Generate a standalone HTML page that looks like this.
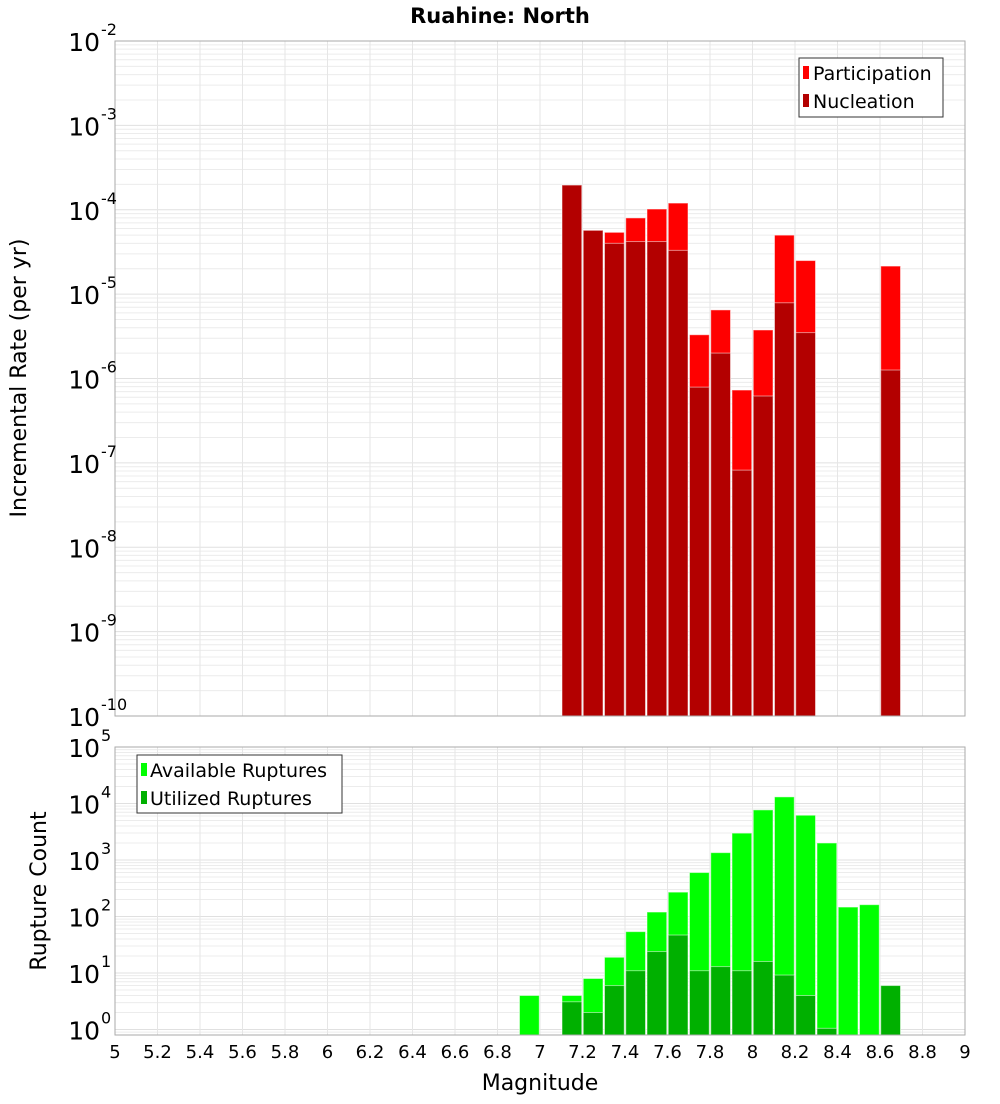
<!DOCTYPE html>
<html><head><meta charset="utf-8"><style>
body{margin:0;background:#fff;font-family:"DejaVu Sans","Liberation Sans",sans-serif;}
svg text{font-family:"DejaVu Sans","Liberation Sans",sans-serif;}
</style></head><body>
<svg id="chart" width="1000" height="1100" xmlns="http://www.w3.org/2000/svg">
<text x="500" y="23" text-anchor="middle" font-size="21" font-weight="bold">Ruahine: North</text>
<g id="top"></g>
<g id="bot"></g>
<text transform="translate(26,378) rotate(-90)" text-anchor="middle" font-size="22">Incremental Rate (per yr)</text>
<text transform="translate(46,891) rotate(-90)" text-anchor="middle" font-size="22">Rupture Count</text>
<text x="540" y="1090" text-anchor="middle" font-size="22">Magnitude</text>
<g>
<rect x="799" y="58" width="144" height="59" fill="#fff" stroke="#333"/>
<rect x="803" y="66" width="6" height="13" fill="#ff0000"/>
<text x="813" y="80" font-size="19">Participation</text>
<rect x="803" y="94" width="6" height="13" fill="#b30000"/>
<text x="813" y="108" font-size="19">Nucleation</text>
</g>
<g>
<rect x="137" y="755" width="205" height="58" fill="#fff" stroke="#333"/>
<rect x="141" y="763" width="6" height="13" fill="#00ff00"/>
<text x="150" y="777" font-size="19">Available Ruptures</text>
<rect x="141" y="791" width="6" height="13" fill="#00b000"/>
<text x="150" y="805" font-size="19">Utilized Ruptures</text>
</g>
</svg>
<script>
const bins=[6.95,7.05,7.15,7.25,7.35,7.45,7.55,7.65,7.75,7.85,7.95,8.05,8.15,8.25,8.35,8.45,8.55,8.65];
const participation=[0,0,1.96e-4,5.7e-5,5.4e-5,8e-5,1.02e-4,1.2e-4,3.3e-6,6.5e-6,7.3e-7,3.76e-6,5.0e-5,2.5e-5,0,0,0,2.15e-5];
const nucleation=[0,0,1.96e-4,5.7e-5,4.0e-5,4.2e-5,4.2e-5,3.3e-5,7.9e-7,2.0e-6,8.2e-8,6.2e-7,7.9e-6,3.5e-6,0,0,0,1.26e-6];
const available=[4,0,4,8,19,54,120,270,600,1350,2990,7700,13100,6200,2000,147,162,6];
const utilized=[0,0,3.1,2,6,11,24,47,11,13,11,16,9.2,4,1.05,0,0,6];
const xTicks=[5,5.2,5.4,5.6,5.8,6,6.2,6.4,6.6,6.8,7,7.2,7.4,7.6,7.8,8,8.2,8.4,8.6,8.8,9];
const topExp=[-10,-9,-8,-7,-6,-5,-4,-3,-2];
const botExp=[0,1,2,3,4,5];
const NS="http://www.w3.org/2000/svg";
const X0=115,X1=965;
function xs(m){return X0+(m-5)/4*(X1-X0);}
function mk(p,t,a){const e=document.createElementNS(NS,t);for(const k in a)e.setAttribute(k,a[k]);p.appendChild(e);return e;}
function plot(g,y0,y1,lmin,lmax,exps,s1,s2,c1,c2,n1,n2){
 const ys=v=>y1-(Math.log10(v)-lmin)/(lmax-lmin)*(y1-y0);
 mk(g,'rect',{x:X0,y:y0,width:X1-X0,height:y1-y0,fill:'#fff'});
 for(let d=Math.floor(lmin);d<lmax;d++)for(let k=1;k<10;k++){const v=k*Math.pow(10,d);const lv=Math.log10(v);if(lv<lmin||lv>lmax)continue;
  const y=ys(v);const l=mk(g,'line',{x1:X0,x2:X1,y1:y,y2:y,stroke:k==1?'#e0e0e0':'#ececec','stroke-width':1});}
 xTicks.forEach(t=>{const x=xs(t);const l=mk(g,'line',{x1:x,x2:x,y1:y0,y2:y1,stroke:'#e6e6e6'});});
 const w=(xs(5.1)-xs(5))-1.5;
 bins.forEach((b,i)=>{[[s1,c1,n1],[s2,c2,n2]].forEach(([s,c,n])=>{const v=s[i];if(!v)return;const y=ys(v);
  const r=mk(g,'rect',{x:xs(b)-w/2,y:y,width:w,height:y1-y,fill:c,stroke:'#fff','stroke-opacity':0.5,'stroke-width':1});
  });});
 mk(g,'rect',{x:X0,y:y0,width:X1-X0,height:y1-y0,fill:'none',stroke:'#aaa'});
 exps.forEach(e=>{const y=ys(Math.pow(10,e));const t=mk(g,'text',{x:100,y:y+10,'text-anchor':'end','font-size':25});t.textContent='10';
  
  const s=mk(g,'text',{x:101,y:y-6,'font-size':16});s.textContent=String(e);});
 return ys;
}
plot(document.getElementById('top'),41,716,-10,-2,topExp,participation,nucleation,'#ff0000','#b30000','participation','nucleation');
plot(document.getElementById('bot'),747,1035,Math.log10(0.8),5,botExp,available,utilized,'#00ff00','#00b000','available','utilized');
const bg=document.getElementById('bot');
xTicks.forEach(t=>{const x=xs(t);const l=mk(bg,'text',{x:x,y:1058,'text-anchor':'middle','font-size':18});l.textContent=String(t);
 });
</script>
</body></html>
